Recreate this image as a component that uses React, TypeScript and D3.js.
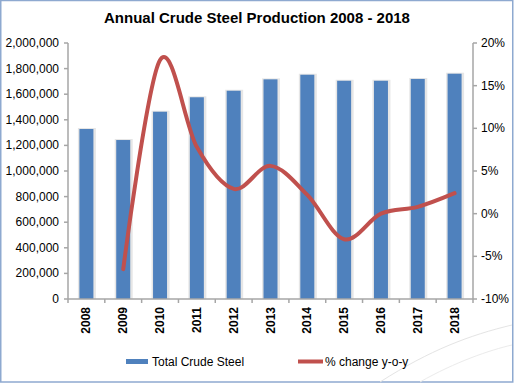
import React from 'react';
import * as d3 from 'd3';

const years = ['2008', '2009', '2010', '2011', '2012', '2013', '2014', '2015', '2016', '2017', '2018'];
const production = [1328000, 1242000, 1463000, 1576000, 1627000, 1716000, 1752000, 1705000, 1705000, 1719000, 1760000];
const pctChange: (number | null)[] = [null, -6.5, 18.0, 7.8, 2.9, 5.6, 2.2, -3.0, 0.0, 0.8, 2.4];
const leftTicks = [0, 200000, 400000, 600000, 800000, 1000000, 1200000, 1400000, 1600000, 1800000, 2000000];
const rightTicks = [-10, -5, 0, 5, 10, 15, 20];
const title = 'Annual Crude Steel Production 2008 - 2018';
const seriesNames = ['Total Crude Steel', '% change y-o-y'];

const W = 515, H = 383;
const L = 68, R = 473, T = 43, B = 299;
const BAR = '#4F81BD', LINE = '#C0504D', AXIS = '#A6A6A6';
const FONT = '"Liberation Sans", Arial, sans-serif';

export default function App() {
  const x = d3.scaleBand<string>().domain(years).range([L, R]).padding(0);
  const yL = d3.scaleLinear().domain([0, 2000000]).range([B, T]);
  const yR = d3.scaleLinear().domain([-10, 20]).range([B, T]);
  const bw = x.bandwidth() * 0.38;
  const fmt = d3.format(',');

  const pts = years
    .map((yr, i) => ({ yr, v: pctChange[i] }))
    .filter((d) => d.v !== null) as { yr: string; v: number }[];
  const line = d3
    .line<{ yr: string; v: number }>()
    .x((d) => (x(d.yr) as number) + x.bandwidth() / 2)
    .y((d) => yR(d.v))
    .curve(d3.curveCatmullRom.alpha(0));

  return (
    <svg width={W} height={H} style={{ position: 'absolute', left: 0, top: 0, background: '#fff' }} fontFamily={FONT}>
      <rect x={0.75} y={0.5} width={512} height={H - 1.5} fill="#fff" stroke="#8EA9D0" strokeWidth={1.5} />
      <path d="M 380 382 C 430 350, 470 335, 512 325" fill="none" stroke="#E4E4E4" strokeWidth={1} />
      <path d="M 420 382 C 455 362, 490 350, 512 345" fill="none" stroke="#EBEBEB" strokeWidth={1} />
      <text x={257} y={23} textAnchor="middle" fontSize={15} fontWeight="bold" fill="#000">{title}</text>

      {/* bars */}
      {years.map((yr, i) => {
        const cx = (x(yr) as number) + x.bandwidth() / 2;
        return (
          <g key={yr}>
            <rect x={cx - bw / 2 - 1.5} y={yL(production[i]) - 1} width={bw + 4} height={B - yL(production[i]) + 1} fill="#E6E6E6" />
            <rect x={cx - bw / 2} y={yL(production[i])} width={bw} height={B - yL(production[i])} fill={BAR} />
          </g>
        );
      })}

      {/* left axis */}
      <line x1={L} x2={L} y1={T} y2={B} stroke={AXIS} strokeWidth={1.5} />
      {leftTicks.map((t) => (
        <g key={t}>
          <line x1={L - 4} x2={L} y1={yL(t)} y2={yL(t)} stroke={AXIS} strokeWidth={1.5} />
          <text x={L - 9} y={yL(t) + 4} textAnchor="end" fontSize={12} fill="#000">{fmt(t)}</text>
        </g>
      ))}
      {/* right axis */}
      <line x1={R} x2={R} y1={T} y2={B} stroke={AXIS} strokeWidth={1.5} />
      {rightTicks.map((t) => (
        <g key={t}>
          <line x1={R} x2={R + 4} y1={yR(t)} y2={yR(t)} stroke={AXIS} strokeWidth={1.5} />
          <text x={R + 8} y={yR(t) + 4} textAnchor="start" fontSize={12} fill="#000">{t + '%'}</text>
        </g>
      ))}
      {/* x axis */}
      <line x1={L} x2={R} y1={B} y2={B} stroke={AXIS} strokeWidth={1.5} />
      {years.map((yr) => (
        <line key={'t' + yr} x1={x(yr) as number} x2={x(yr) as number} y1={B} y2={B + 4} stroke={AXIS} strokeWidth={1.5} />
      ))}
      <line x1={R} x2={R} y1={B} y2={B + 4} stroke={AXIS} strokeWidth={1.5} />
      {years.map((yr) => {
        const cx = (x(yr) as number) + x.bandwidth() / 2;
        return (
          <text key={'l' + yr} transform={`translate(${cx + 4},${307}) rotate(-90)`} textAnchor="end" fontSize={12} fontWeight="bold" fill="#000">{yr}</text>
        );
      })}

      {/* line */}
      <path d={line(pts) || ''} fill="none" stroke={LINE} strokeWidth={4} strokeLinecap="round" strokeLinejoin="round" />

      {/* legend */}
      <rect x={126} y={359} width={22} height={5} fill={BAR} />
      <text x={152} y={366} fontSize={12} fill="#000">{seriesNames[0]}</text>
      <line x1={298} x2={323} y1={361.5} y2={361.5} stroke={LINE} strokeWidth={4} />
      <text x={325} y={366} fontSize={12} fill="#000">{seriesNames[1]}</text>
    </svg>
  );
}
